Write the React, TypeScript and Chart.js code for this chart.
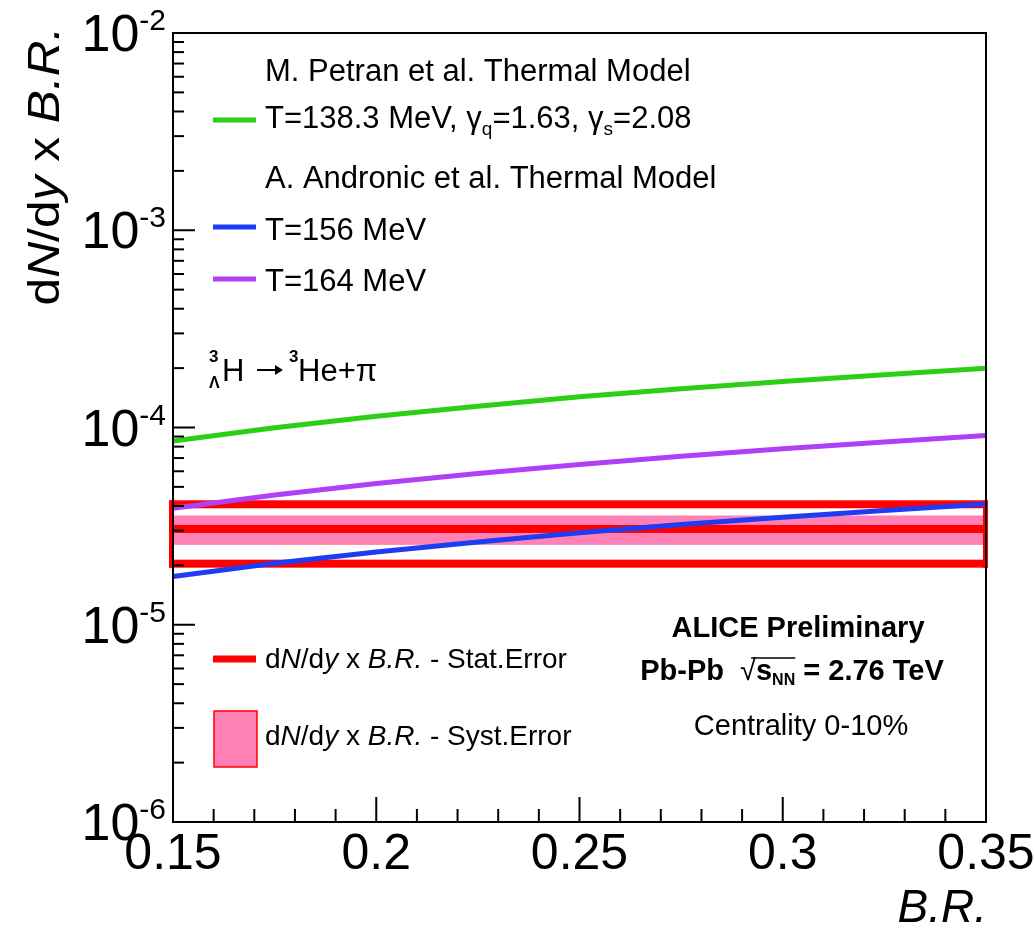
import React, { useEffect, useRef } from "react";
import { Chart, registerables } from "chart.js";

Chart.register(...registerables);

// ---------- data ----------
const brValues = [0.15, 0.175, 0.2, 0.225, 0.25, 0.275, 0.3, 0.325, 0.35];
const petranYield = [8.55e-5, 9.98e-5, 1.14e-4, 1.28e-4, 1.43e-4, 1.57e-4, 1.71e-4, 1.85e-4, 2.0e-4];
const andronic156Yield = [1.755e-5, 2.05e-5, 2.34e-5, 2.63e-5, 2.93e-5, 3.22e-5, 3.51e-5, 3.8e-5, 4.1e-5];
const andronic164Yield = [3.9e-5, 4.55e-5, 5.2e-5, 5.85e-5, 6.5e-5, 7.15e-5, 7.8e-5, 8.45e-5, 9.1e-5];

const measuredRange = [0.15, 0.35];
const measuredYield = [3.06e-5];
const statError = [1.02e-5];
const systError = [0.52e-5];

const xMajorTicks = [0.15, 0.2, 0.25, 0.3, 0.35];
const xTickLabels = ["0.15", "0.2", "0.25", "0.3", "0.35"];
const xMinorStep = 0.01;
const yDecadeExponents = [-2, -3, -4, -5, -6];

const GREEN = "#2bd016";
const BLUE = "#1f3cf5";
const PURPLE = "#b040f5";
const RED = "#ff0000";
const PINK = "#ff80b4";
const FONT = '"Liberation Sans", Arial, Helvetica, "DejaVu Sans", sans-serif';

type Seg = { t: string; size: number; bold?: boolean; italic?: boolean; dy?: number };

function segFont(s: Seg) {
  return `${s.italic ? "italic " : ""}${s.bold ? "bold " : ""}${s.size}px ${FONT}`;
}
function measureRich(ctx: CanvasRenderingContext2D, segs: Seg[]) {
  let w = 0;
  for (const s of segs) {
    ctx.font = segFont(s);
    w += ctx.measureText(s.t).width;
  }
  return w;
}
function drawRich(
  ctx: CanvasRenderingContext2D,
  segs: Seg[],
  x: number,
  y: number,
  align: "left" | "center" | "right" = "left"
) {
  const w = measureRich(ctx, segs);
  let cx = align === "left" ? x : align === "center" ? x - w / 2 : x - w;
  const pos: number[] = [];
  ctx.textAlign = "left";
  ctx.textBaseline = "alphabetic";
  for (const s of segs) {
    ctx.font = segFont(s);
    pos.push(cx);
    ctx.fillText(s.t, cx, y + (s.dy || 0));
    cx += ctx.measureText(s.t).width;
  }
  pos.push(cx);
  return pos;
}

const decorPlugin = {
  id: "decor",
  beforeDatasetsDraw(chart: any) {
    const { ctx, scales } = chart;
    const x = scales.x;
    const y = scales.y;
    const xl = x.getPixelForValue(measuredRange[0]);
    const xr = x.getPixelForValue(measuredRange[1]);
    const c = measuredYield[0];
    const yc = y.getPixelForValue(c);
    const ys1 = y.getPixelForValue(c + systError[0]);
    const ys2 = y.getPixelForValue(c - systError[0]);
    const yt = y.getPixelForValue(c + statError[0]);
    const yb = y.getPixelForValue(c - statError[0]);
    ctx.save();
    ctx.fillStyle = PINK;
    ctx.fillRect(xl - 4, ys1, xr - xl + 6, ys2 - ys1);
    ctx.fillStyle = RED;
    ctx.fillRect(xl - 4, yc - 4, xr - xl + 6, 8);
    ctx.fillRect(xl - 4, yt - 4, xr - xl + 6, 8);
    ctx.fillRect(xl - 4, yb - 4, xr - xl + 6, 8);
    ctx.fillRect(xl - 4, yt - 4, 4, yb - yt + 8);
    ctx.fillRect(xr - 3, yt - 4, 5, yb - yt + 8);
    ctx.restore();
  },
  afterDatasetsDraw(chart: any) {
    const { ctx, scales, chartArea } = chart;
    const x = scales.x;
    const y = scales.y;
    const { left, right, top, bottom } = chartArea;
    ctx.save();
    ctx.fillStyle = "#000";
    ctx.strokeStyle = "#000";

    // frame
    ctx.lineWidth = 2;
    ctx.strokeRect(left, top, right - left, bottom - top);

    // y ticks (log)
    ctx.lineWidth = 2;
    for (const e of yDecadeExponents) {
      for (let m = 1; m <= 9; m++) {
        const v = m * Math.pow(10, e);
        if (v > 1e-2 * 1.0001 || v < 1e-6 * 0.9999) continue;
        const py = y.getPixelForValue(v);
        const len = m === 1 ? 22 : 11;
        ctx.beginPath();
        ctx.moveTo(left, py);
        ctx.lineTo(left + len, py);
        ctx.stroke();
      }
    }
    // x ticks
    const xMin = x.min;
    const xMax = x.max;
    const nSteps = Math.round((xMax - xMin) / xMinorStep);
    for (let i = 0; i <= nSteps; i++) {
      const v = xMin + i * xMinorStep;
      const isMajor = xMajorTicks.some((t) => Math.abs(t - v) < 1e-6);
      const px = x.getPixelForValue(v);
      const len = isMajor ? 25 : 13;
      ctx.beginPath();
      ctx.moveTo(px, bottom);
      ctx.lineTo(px, bottom - len);
      ctx.stroke();
    }

    // y tick labels
    for (const e of yDecadeExponents) {
      const py = y.getPixelForValue(Math.pow(10, e));
      const segs: Seg[] = [
        { t: "10", size: 52 },
        { t: String(e), size: 30, dy: -21 },
      ];
      drawRich(ctx, segs, 166, py + 18, "right");
    }
    // x tick labels
    xMajorTicks.forEach((t, i) => {
      const px = x.getPixelForValue(t);
      ctx.font = `50px ${FONT}`;
      ctx.textAlign = "center";
      ctx.textBaseline = "alphabetic";
      ctx.fillText(xTickLabels[i], px, 869);
    });
    // axis titles
    drawRich(ctx, [{ t: "B.R.", size: 46, italic: true }], 987, 922, "right");
    ctx.save();
    ctx.translate(59, 166);
    ctx.rotate(-Math.PI / 2);
    ctx.scale(1.08, 0.95);
    drawRich(
      ctx,
      [
        { t: "d", size: 46 },
        { t: "N", size: 46, italic: true },
        { t: "/d", size: 46 },
        { t: "y", size: 46, italic: true },
        { t: " x ", size: 46 },
        { t: "B.R.", size: 46, italic: true },
      ],
      0,
      0,
      "center"
    );
    ctx.restore();

    // legend (upper)
    const legLine = (yy: number, color: string, w = 5) => {
      ctx.strokeStyle = color;
      ctx.lineWidth = w;
      ctx.beginPath();
      ctx.moveTo(213, yy);
      ctx.lineTo(256, yy);
      ctx.stroke();
    };
    ctx.fillStyle = "#000";
    drawRich(ctx, [{ t: "M. Petran et al. Thermal Model", size: 31 }], 265, 81);
    legLine(120, GREEN);
    drawRich(
      ctx,
      [
        { t: "T=138.3 MeV, γ", size: 31 },
        { t: "q", size: 19, dy: 7 },
        { t: "=1.63, γ", size: 31 },
        { t: "s", size: 19, dy: 7 },
        { t: "=2.08", size: 31 },
      ],
      265,
      128
    );
    drawRich(ctx, [{ t: "A. Andronic et al. Thermal Model", size: 31 }], 265, 188);
    legLine(227, BLUE);
    drawRich(ctx, [{ t: "T=156 MeV", size: 31 }], 265, 240);
    legLine(279, PURPLE);
    drawRich(ctx, [{ t: "T=164 MeV", size: 31 }], 265, 291);

    // hypertriton label
    ctx.fillStyle = "#000";
    drawRich(ctx, [{ t: "3", size: 17, bold: true }], 209, 362);
    drawRich(ctx, [{ t: "Λ", size: 16, bold: true }], 209, 388);
    drawRich(ctx, [{ t: "H", size: 31 }], 222, 381);
    // arrow
    ctx.strokeStyle = "#000";
    ctx.lineWidth = 2;
    ctx.beginPath();
    ctx.moveTo(257, 370);
    ctx.lineTo(281, 370);
    ctx.stroke();
    ctx.beginPath();
    ctx.moveTo(283, 370);
    ctx.lineTo(275, 365);
    ctx.lineTo(275, 375);
    ctx.closePath();
    ctx.fill();
    drawRich(ctx, [{ t: "3", size: 17, bold: true }], 289, 362);
    drawRich(ctx, [{ t: "He+π", size: 31 }], 298, 381);

    // lower legend
    legLine(659, RED, 7);
    const dndy = (suffix: string): Seg[] => [
      { t: "d", size: 28 },
      { t: "N", size: 28, italic: true },
      { t: "/d", size: 28 },
      { t: "y", size: 28, italic: true },
      { t: " x ", size: 28 },
      { t: "B.R.", size: 28, italic: true },
      { t: suffix, size: 28 },
    ];
    ctx.fillStyle = "#000";
    drawRich(ctx, dndy(" - Stat.Error"), 265, 668);
    ctx.fillStyle = PINK;
    ctx.fillRect(214, 711, 43, 56);
    ctx.strokeStyle = RED;
    ctx.lineWidth = 1.5;
    ctx.strokeRect(214, 711, 43, 56);
    ctx.fillStyle = "#000";
    drawRich(ctx, dndy(" - Syst.Error"), 265, 745);

    // ALICE block
    drawRich(ctx, [{ t: "ALICE Preliminary", size: 29, bold: true }], 798, 637, "center");
    const segs: Seg[] = [
      { t: "Pb-Pb  ", size: 29, bold: true },
      { t: "√", size: 29 },
      { t: "s", size: 29, bold: true },
      { t: "NN", size: 16, bold: true, dy: 5 },
      { t: " = 2.76 TeV", size: 29, bold: true },
    ];
    const pos = drawRich(ctx, segs, 792, 680, "center");
    ctx.strokeStyle = "#000";
    ctx.lineWidth = 1.5;
    ctx.beginPath();
    ctx.moveTo(pos[1] + 11, 658);
    ctx.lineTo(pos[4], 658);
    ctx.stroke();
    drawRich(ctx, [{ t: "Centrality 0-10%", size: 29 }], 801, 735, "center");

    ctx.restore();
  },
};

export default function App() {
  const ref = useRef<HTMLCanvasElement>(null);
  useEffect(() => {
    const mk = (vals: number[], color: string) => ({
      data: brValues.map((b, i) => ({ x: b, y: vals[i] })),
      borderColor: color,
      backgroundColor: color,
      borderWidth: 5,
      pointRadius: 0,
      fill: false,
      tension: 0,
    });
    const chart = new Chart(ref.current as HTMLCanvasElement, {
      type: "line",
      data: {
        datasets: [mk(petranYield, GREEN), mk(andronic164Yield, PURPLE), mk(andronic156Yield, BLUE)],
      } as any,
      options: {
        responsive: false,
        animation: false,
        devicePixelRatio: 1,
        events: [],
        layout: { padding: { left: 173, top: 33, right: 1034 - 986, bottom: 928 - 822 } },
        scales: {
          x: { type: "linear", min: 0.15, max: 0.35, display: false },
          y: { type: "logarithmic", min: 1e-6, max: 1e-2, display: false },
        },
        plugins: { legend: { display: false }, tooltip: { enabled: false } },
      } as any,
      plugins: [decorPlugin],
    });
    return () => chart.destroy();
  }, []);
  return (
    <div style={{ position: "absolute", left: 0, top: 0, width: 1034, height: 928, background: "#fff" }}>
      <canvas ref={ref} width={1034} height={928} style={{ display: "block", width: 1034, height: 928 }} />
    </div>
  );
}
